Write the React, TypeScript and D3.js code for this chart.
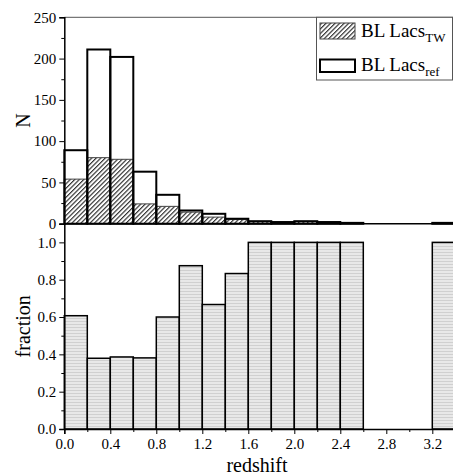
import React, { useEffect, useRef } from 'react';
import * as d3 from 'd3';

// left edges of the redshift bins (width 0.2)
const binLeft = [0, 0.2, 0.4, 0.6, 0.8, 1.0, 1.2, 1.4, 1.6, 1.8, 2.0, 2.2, 2.4, 2.6, 2.8, 3.0, 3.2];
const refCounts = [89, 211, 202, 63, 35, 16, 12, 6, 3, 2, 3, 2, 1, 0, 0, 0, 1];
const twCounts = [54, 80, 78, 24, 21, 14, 8, 5, 3, 2, 3, 2, 1, 0, 0, 0, 1];
const fraction = [0.607, 0.379, 0.386, 0.381, 0.6, 0.875, 0.667, 0.833, 1, 1, 1, 1, 1, 0, 0, 0, 1];
const xTicks = [0, 0.4, 0.8, 1.2, 1.6, 2.0, 2.4, 2.8, 3.2];
const nTicks = [0, 50, 100, 150, 200, 250];
const fracTicks = [0, 0.2, 0.4, 0.6, 0.8, 1.0];

const BIN = 0.2;
const W = 453;
const H = 475;
const FONT = '"Liberation Serif", "Times New Roman", serif';

const App = () => {
  const svgRef = useRef<SVGSVGElement>(null);

  useEffect(() => {
    const svg = d3.select(svgRef.current);
    svg.selectAll('*').remove();

    const x = d3.scaleLinear().domain([0, 3.4]).range([64.3, 455.3]);
    const yTop = d3.scaleLinear().domain([0, 250]).range([223.7, 17.3]);
    const yBot = d3.scaleLinear().domain([0, 1.1]).range([429, 223.7]);

    const defs = svg.append('defs');
    const hatch = defs.append('pattern')
      .attr('id', 'hatch')
      .attr('patternUnits', 'userSpaceOnUse')
      .attr('width', 3.2)
      .attr('height', 3.2)
      .attr('patternTransform', 'rotate(45)');
    hatch.append('rect').attr('width', 3.2).attr('height', 3.2).attr('fill', '#fff');
    hatch.append('line')
      .attr('x1', 0.6).attr('y1', 0).attr('x2', 0.6).attr('y2', 3.2)
      .attr('stroke', '#222').attr('stroke-width', 1.1);

    const dots = defs.append('pattern')
      .attr('id', 'dots')
      .attr('patternUnits', 'userSpaceOnUse')
      .attr('width', 3)
      .attr('height', 3);
    dots.append('rect').attr('width', 3).attr('height', 3).attr('fill', '#e8e8e8');
    dots.append('rect').attr('y', 0).attr('width', 3).attr('height', 1).attr('fill', '#d0d0d0');

    const styleAxis = (g: any) => {
      g.attr('font-family', FONT).attr('font-size', 15);
      g.selectAll('text').attr('font-family', FONT).style('font-family', FONT).attr('font-size', 15).attr('fill', '#000');
      g.select('.domain').attr('stroke-width', 1.5);
    };

    // ---------- top panel ----------
    const top = svg.append('g');

    // top frame
    top.append('line')
      .attr('x1', x(0)).attr('x2', W)
      .attr('y1', yTop(250)).attr('y2', yTop(250))
      .attr('stroke', '#555').attr('stroke-width', 1);

    // ref bars (white fill)
    top.selectAll('.refFill')
      .data(binLeft)
      .join('rect')
      .attr('x', d => x(d))
      .attr('width', d => x(d + BIN) - x(d))
      .attr('y', (d, i) => yTop(refCounts[i]))
      .attr('height', (d, i) => yTop(0) - yTop(refCounts[i]))
      .attr('fill', '#fff');

    // TW hatched bars
    top.selectAll('.tw')
      .data(binLeft)
      .join('rect')
      .attr('x', d => x(d))
      .attr('width', d => x(d + BIN) - x(d))
      .attr('y', (d, i) => yTop(twCounts[i]))
      .attr('height', (d, i) => yTop(0) - yTop(twCounts[i]))
      .attr('fill', 'url(#hatch)')
      .attr('stroke', '#444')
      .attr('stroke-width', 1);

    // ref outlines
    top.selectAll('.refLine')
      .data(binLeft)
      .join('rect')
      .attr('x', d => x(d))
      .attr('width', d => x(d + BIN) - x(d))
      .attr('y', (d, i) => yTop(refCounts[i]))
      .attr('height', (d, i) => yTop(0) - yTop(refCounts[i]))
      .attr('fill', 'none')
      .attr('stroke', '#000')
      .attr('stroke-width', 2);

    // baseline between panels
    top.append('line')
      .attr('x1', x(0)).attr('x2', W)
      .attr('y1', yTop(0)).attr('y2', yTop(0))
      .attr('stroke', '#000').attr('stroke-width', 1.5);

    // left axis of top panel
    top.append('g').attr('transform', `translate(${x(0)},0)`)
      .call(d3.axisLeft(yTop).tickValues(nTicks).tickSize(5).tickPadding(3).tickFormat(d3.format('d')))
      .call(styleAxis);
    top.append('g').attr('transform', `translate(${x(0)},0)`)
      .call(d3.axisLeft(yTop).tickValues(d3.range(25, 250, 50)).tickSize(3).tickFormat(() => ''))
      .select('.domain').remove();

    top.append('text')
      .attr('transform', `translate(30,${(yTop(0) + yTop(250)) / 2}) rotate(-90)`)
      .attr('text-anchor', 'middle')
      .attr('font-family', FONT).attr('font-size', 20)
      .text('N');

    // legend
    const lg = top.append('g');
    lg.append('rect')
      .attr('x', 316.5).attr('y', 17.3).attr('width', 136).attr('height', 62.7)
      .attr('fill', '#fff').attr('stroke', '#555').attr('stroke-width', 1);
    lg.append('rect')
      .attr('x', 320).attr('y', 23).attr('width', 35).attr('height', 16)
      .attr('fill', 'url(#hatch)').attr('stroke', '#444').attr('stroke-width', 1);
    lg.append('rect')
      .attr('x', 320).attr('y', 59.5).attr('width', 35).attr('height', 12.5)
      .attr('fill', '#fff').attr('stroke', '#000').attr('stroke-width', 2);
    const t1 = lg.append('text').attr('x', 361).attr('y', 37)
      .attr('font-family', FONT).attr('font-size', 19);
    t1.append('tspan').text('BL Lacs');
    t1.append('tspan').attr('dy', 5).attr('font-size', 13).text('TW');
    const t2 = lg.append('text').attr('x', 361).attr('y', 71)
      .attr('font-family', FONT).attr('font-size', 19);
    t2.append('tspan').text('BL Lacs');
    t2.append('tspan').attr('dy', 5).attr('font-size', 13).text('ref');

    // ---------- bottom panel ----------
    const bot = svg.append('g');
    bot.selectAll('.frac')
      .data(binLeft)
      .join('rect')
      .attr('x', d => x(d))
      .attr('width', d => x(d + BIN) - x(d))
      .attr('y', (d, i) => yBot(fraction[i]))
      .attr('height', (d, i) => yBot(0) - yBot(fraction[i]))
      .attr('fill', 'url(#dots)')
      .attr('stroke', '#000')
      .attr('stroke-width', 1.5);

    bot.append('g').attr('transform', `translate(${x(0)},0)`)
      .call(d3.axisLeft(yBot).tickValues(fracTicks).tickSize(5).tickPadding(3).tickFormat(d3.format('.1f')))
      .call(styleAxis);
    bot.append('g').attr('transform', `translate(${x(0)},0)`)
      .call(d3.axisLeft(yBot).tickValues(d3.range(0.1, 1.1, 0.2)).tickSize(3).tickFormat(() => ''))
      .select('.domain').remove();

    bot.append('g').attr('transform', `translate(0,${yBot(0)})`)
      .call(d3.axisBottom(x).tickValues(xTicks).tickSize(5).tickPadding(4).tickFormat(d3.format('.1f')))
      .call(styleAxis);
    bot.append('g').attr('transform', `translate(0,${yBot(0)})`)
      .call(d3.axisBottom(x).tickValues(d3.range(0.2, 3.4, 0.4)).tickSize(3).tickFormat(() => ''))
      .select('.domain').remove();

    bot.append('text')
      .attr('transform', `translate(30,${(yBot(0) + yBot(1.1)) / 2}) rotate(-90)`)
      .attr('text-anchor', 'middle')
      .attr('font-family', FONT).attr('font-size', 20)
      .text('fraction');

    bot.append('text')
      .attr('x', 257).attr('y', 472)
      .attr('text-anchor', 'middle')
      .attr('font-family', FONT).attr('font-size', 20)
      .text('redshift');
  }, []);

  return (
    <svg ref={svgRef} width={W} height={H} style={{ position: 'absolute', left: 0, top: 0, background: '#fff' }} />
  );
};

export default App;
